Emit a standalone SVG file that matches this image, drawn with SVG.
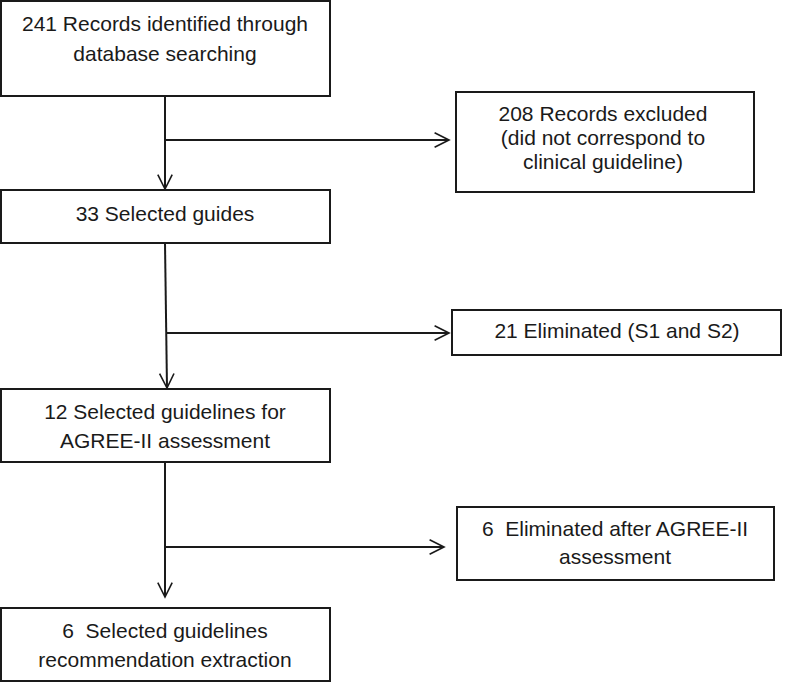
<svg xmlns="http://www.w3.org/2000/svg" width="787" height="682" viewBox="0 0 787 682">
<style>
.box{fill:#fff;stroke:#1a1a1a;stroke-width:2}
.ln{fill:none;stroke:#1a1a1a;stroke-width:2}
text{font-family:"Liberation Sans",Arial,sans-serif;font-size:21px;fill:#1a1a1a;text-anchor:middle}
</style>
<defs>
<marker id="ah" viewBox="0 0 20 20" refX="18" refY="10" markerWidth="18" markerHeight="18" markerUnits="userSpaceOnUse" orient="auto">
<path d="M2,2 L18,10 L2,18" fill="none" stroke="#1a1a1a" stroke-width="1.8"/>
</marker>
</defs>
<rect width="787" height="682" fill="#fff"/>
<g id="connectors">
<path class="ln" d="M165,97 V189" marker-end="url(#ah)"/>
<path class="ln" d="M165,140 H449" marker-end="url(#ah)"/>
<path class="ln" d="M165,243 L167,388" marker-end="url(#ah)"/>
<path class="ln" d="M166,333 H449" marker-end="url(#ah)"/>
<path class="ln" d="M165,462 V597" marker-end="url(#ah)"/>
<path class="ln" d="M165,547 H444" marker-end="url(#ah)"/>
</g>
<g id="n1"><rect class="box" x="1" y="1" width="329" height="95"/>
<text x="165" y="31">241 Records identified through</text>
<text x="165" y="61">database searching</text></g>
<g id="n2"><rect class="box" x="456" y="92" width="298" height="100"/>
<text x="603" y="121">208 Records excluded</text>
<text x="603" y="145">(did not correspond to</text>
<text x="603" y="169">clinical guideline)</text></g>
<g id="n3"><rect class="box" x="1" y="190" width="329" height="53"/>
<text x="165" y="221">33 Selected guides</text></g>
<g id="n4"><rect class="box" x="452" y="310" width="329" height="45"/>
<text x="617" y="338">21 Eliminated (S1 and S2)</text></g>
<g id="n5"><rect class="box" x="1" y="389" width="329" height="73"/>
<text x="165" y="419">12 Selected guidelines for</text>
<text x="165" y="448">AGREE-II assessment</text></g>
<g id="n6"><rect class="box" x="457" y="507" width="317" height="73"/>
<text x="615" y="536" xml:space="preserve">6  Eliminated after AGREE-II</text>
<text x="615" y="564">assessment</text></g>
<g id="n7"><rect class="box" x="1" y="608" width="329" height="73"/>
<text x="165" y="638" xml:space="preserve">6  Selected guidelines</text>
<text x="165" y="667">recommendation extraction</text></g>
</svg>
